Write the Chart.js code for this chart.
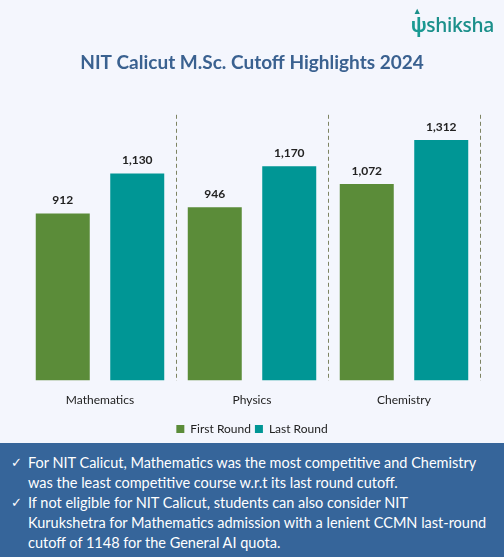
<!DOCTYPE html>
<html>
<head>
<meta charset="utf-8">
<script src="https://cdn.jsdelivr.net/npm/chart.js@4.4.1/dist/chart.umd.min.js"></script>
<style>
  html, body { margin: 0; padding: 0; background: #F4F6FD; }
  #wrap { position: relative; width: 504px; height: 557px; overflow: hidden; background: #F4F6FD; font-family: Lato, "Open Sans", sans-serif; }
  #chartBox { position: absolute; left: 0; top: 0; width: 504px; height: 445px; }
  #logo { position: absolute; right: 10px; top: 12px; color: #1A8F8A; font-family: "Open Sans", sans-serif; font-size: 19px; font-weight: 600; letter-spacing: -0.3px; }
  #logo .cap { position: absolute; left: 2px; top: -8px; font-size: 9px; color: #1A8F8A; }
  #logo .v { color: #1A9A93; font-weight: 700; }
  #notes { position: absolute; left: 0; top: 443px; width: 504px; height: 114px; background: #36659A; color: #fff; font-size: 14.5px; line-height: 20px; box-sizing: border-box; padding-top: 10px; }
  #notes div { position: relative; padding-left: 28px; white-space: nowrap; }
  #notes div::before { content: "\2713"; position: absolute; left: 11px; top: 0; font-family: "DejaVu Sans", sans-serif; font-size: 13px; }
</style>
</head>
<body>
<div id="wrap">
  <div id="chartBox"><canvas id="cutoffChart"></canvas></div>
  <div id="logo"><span class="cap">&#9650;</span><span class="v">&#968;</span>shiksha</div>
  <div id="notes">
    <div>For NIT Calicut, Mathematics was the most competitive and Chemistry<br>was the least competitive course w.r.t its last round cutoff.</div>
    <div>If not eligible for NIT Calicut, students can also consider NIT<br>Kurukshetra for Mathematics admission with a lenient CCMN last-round<br>cutoff of 1148 for the General AI quota.</div>
  </div>
</div>
<script>
// 데이터
const courses = ['Mathematics', 'Physics', 'Chemistry'];
const firstRound = [912, 946, 1072];
const lastRound = [1130, 1170, 1312];
const seriesNames = ['First Round', 'Last Round'];

// 막대 위 값 표시
const valueLabels = {
    id: 'valueLabels',
    afterDatasetsDraw(chart) {
        const ctx = chart.ctx;
        ctx.save();
        ctx.font = 'bold 12px Lato, "Open Sans", sans-serif';
        ctx.fillStyle = '#222';
        ctx.textAlign = 'center';
        ctx.textBaseline = 'bottom';
        chart.data.datasets.forEach((ds, i) => {
            chart.getDatasetMeta(i).data.forEach((bar, j) => {
                ctx.fillText(ds.data[j].toLocaleString('en-US'), bar.x, bar.y - 7);
            });
        });
        ctx.restore();
    }
};

const ctx = document.getElementById('cutoffChart').getContext('2d');
new Chart(ctx, {
    type: 'bar',
    data: {
        labels: courses,
        datasets: [
            { label: seriesNames[0], data: firstRound, backgroundColor: '#5B8C39' },
            { label: seriesNames[1], data: lastRound, backgroundColor: '#009695' }
        ]
    },
    options: {
        responsive: true,
        maintainAspectRatio: false,
        animation: false,
        categoryPercentage: 0.98,
        barPercentage: 0.725,
        layout: { padding: { left: 24, right: 24, top: 0, bottom: 0 } },
        plugins: {
            title: {
                display: true,
                text: 'NIT Calicut M.Sc. Cutoff Highlights 2024',
                color: '#3A6190',
                font: { family: 'Lato, "Open Sans", sans-serif', size: 19, weight: 'bold' },
                padding: { top: 51, bottom: 41 }
            },
            legend: {
                position: 'bottom',
                labels: {
                    boxWidth: 8,
                    boxHeight: 8,
                    color: '#222',
                    font: { family: 'Lato, "Open Sans", sans-serif', size: 12 },
                    padding: 4
                }
            },
            tooltip: { enabled: false }
        },
        scales: {
            x: {
                offset: true,
                border: { display: false, dash: [4, 3] },
                grid: {
                    offset: true,
                    drawTicks: false,
                    lineWidth: 1,
                    color: function(c) {
                        return (c.index === 0 || c.index >= courses.length) ? 'rgba(0,0,0,0)' : '#7E8463';
                    }
                },
                ticks: {
                    color: '#222',
                    font: { family: 'Lato, "Open Sans", sans-serif', size: 12 },
                    padding: 12
                }
            },
            y: {
                display: false,
                min: 0,
                max: 1450
            }
        }
    },
    plugins: [valueLabels]
});
</script>
</body>
</html>
